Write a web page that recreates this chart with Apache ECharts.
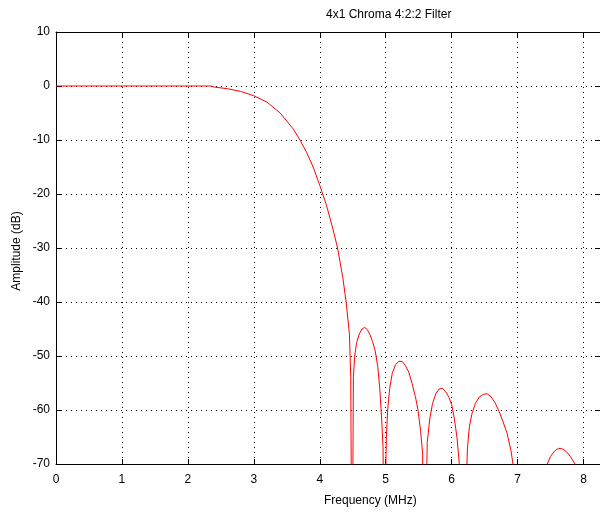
<!DOCTYPE html>
<html>
<head>
<meta charset="utf-8">
<script src="https://cdn.jsdelivr.net/npm/echarts@6/dist/echarts.min.js"></script>
<style>html,body{margin:0;padding:0;background:#fff;}#c{width:600px;height:514px;}</style>
</head>
<body>
<div id="c"></div>
<script>
var titleText = '4x1 Chroma 4:2:2 Filter';
var xLabel = 'Frequency (MHz)';
var yLabel = 'Amplitude (dB)';
var xTicks = [0,1,2,3,4,5,6,7,8];
var yTicks = [10,0,-10,-20,-30,-40,-50,-60,-70];

var freq = [0, 2.35, 2.4, 2.6, 2.8, 3.0, 3.2, 3.4, 3.5, 3.6, 3.7, 3.8, 3.9, 4.0, 4.1, 4.2, 4.27, 4.35, 4.4, 4.45, 4.47, 4.49,
            4.51, 4.53, 4.56, 4.60, 4.64, 4.68, 4.72, 4.76, 4.80, 4.84, 4.88, 4.91, 4.94, 4.96, 4.98,
            5.0, 5.01, 5.03, 5.06, 5.10, 5.15, 5.20, 5.25, 5.30, 5.35, 5.40, 5.45, 5.49, 5.53, 5.56, 5.58,
            5.60, 5.63, 5.67, 5.71, 5.76, 5.81, 5.86, 5.91, 5.96, 6.00, 6.04, 6.08, 6.11, 6.14, 6.18, 6.22,
            6.24, 6.27, 6.31, 6.36, 6.42, 6.48, 6.54, 6.60, 6.66, 6.72, 6.78, 6.84, 6.90, 6.93, 7.0,
            7.3, 7.45, 7.50, 7.56, 7.62, 7.68, 7.74, 7.80, 7.87, 8.0, 8.25];
var amp  = [0, 0, -0.2, -0.5, -1.0, -1.8, -3.0, -5.0, -6.5, -8.0, -10.0, -12.3, -15.0, -18.4, -22.0, -26.5, -30, -35.5, -40, -46, -54, -100,
            -54, -50, -47.5, -45.9, -45.0, -44.7, -45.1, -46.0, -47.3, -49, -52, -56, -62, -67, -100,
            -72, -65, -60, -56, -53.2, -51.6, -51, -51, -51.8, -53, -55.1, -57.5, -60, -64, -68, -100,
            -100, -66, -61.5, -58.8, -57, -56.1, -56, -56.6, -57.7, -59, -61.5, -65, -69, -75, -100, -75,
            -67, -63, -60.6, -58.8, -57.6, -57.1, -57, -57.6, -58.7, -60.3, -62.2, -64.3, -67.5, -70, -100,
            -100, -70, -68.6, -67.6, -67.1, -67.2, -67.7, -68.6, -70, -100, -100];

var pts = freq.map(function (f, i) { return [f, amp[i]]; });

var chart = echarts.init(document.getElementById('c'), null, {renderer: 'canvas'});
var font = 'Liberation Sans, Arial, Helvetica, sans-serif';
var gridLeft = 56, gridTop = 32, gridW = 547, gridH = 432;

var commonX = {
  type: 'value', min: 0, max: 8.25, interval: 1,
  axisLine: {show: true, onZero: false, lineStyle: {color: '#000', width: 1}},
  axisTick: {show: true, inside: true, length: 5, lineStyle: {color: '#000'}},
};
var commonY = {
  type: 'value', min: -70, max: 10, interval: 10,
  axisLine: {show: true, onZero: false, lineStyle: {color: '#000', width: 1}},
  axisTick: {show: true, inside: true, length: 5, lineStyle: {color: '#000'}},
};

chart.setOption({
  animation: false,
  backgroundColor: '#fff',
  grid: {left: gridLeft, top: gridTop, width: gridW, height: gridH, containLabel: false},
  xAxis: [
    Object.assign({}, commonX, {
      position: 'bottom',
      axisLabel: {
        show: true, margin: 10, color: '#000', fontSize: 12, fontFamily: font,
        showMaxLabel: false,
        formatter: function (v) { return xTicks.indexOf(v) >= 0 ? String(v) : ''; }
      },
      splitLine: {show: true, lineStyle: {color: '#000', width: 1, type: [1, 4]}}
    }),
    Object.assign({}, commonX, {
      position: 'top',
      axisLabel: {show: false},
      splitLine: {show: false}
    })
  ],
  yAxis: [
    Object.assign({}, commonY, {
      position: 'left',
      axisLabel: {
        show: true, margin: 6, color: '#000', fontSize: 12, fontFamily: font,
        formatter: function (v) { return yTicks.indexOf(v) >= 0 ? String(v) : ''; }
      },
      splitLine: {show: true, lineStyle: {color: '#000', width: 1, type: [1, 4]}}
    }),
    Object.assign({}, commonY, {
      position: 'right',
      axisLabel: {show: false},
      splitLine: {show: false}
    })
  ],
  graphic: [
    {type: 'text', left: 326, top: 9, style: {text: titleText, font: '12px ' + font, fill: '#000', textAlign: 'center'}},
    {type: 'text', left: 324, top: 495, style: {text: xLabel, font: '12px ' + font, fill: '#000', textAlign: 'center'}},
    {type: 'text', x: 17, y: 251, rotation: Math.PI / 2,
     style: {text: yLabel, font: '12px ' + font, fill: '#000', align: 'center', verticalAlign: 'middle'}}
  ],
  series: [{
    type: 'line',
    xAxisIndex: 0, yAxisIndex: 0,
    data: pts,
    showSymbol: false,
    symbol: 'none',
    clip: true,
    lineStyle: {color: '#ff0000', width: 1},
    z: 5
  }]
});
</script>
</body>
</html>
